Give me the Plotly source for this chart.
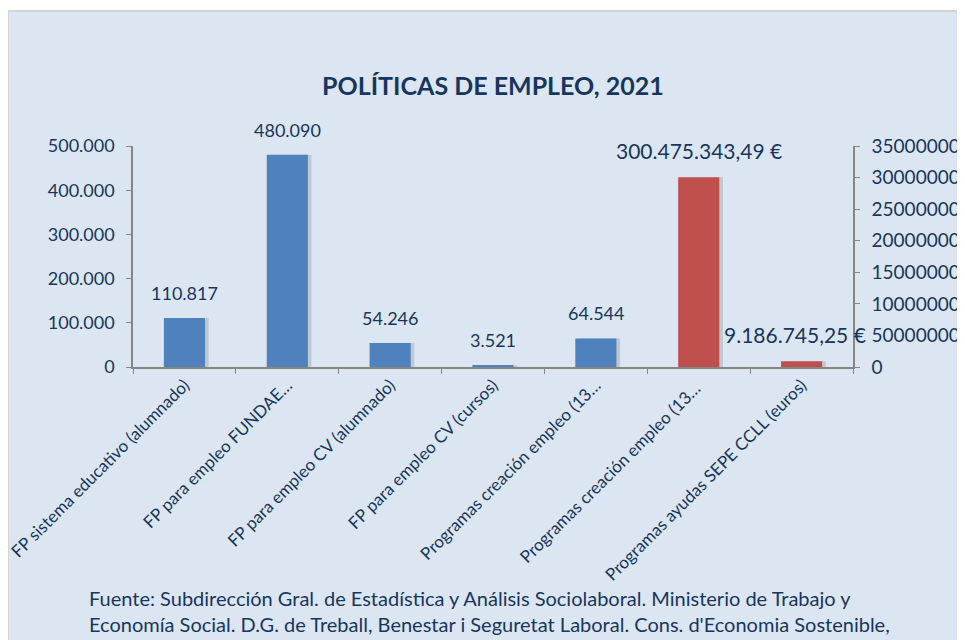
import plotly.graph_objects as go

W, H = 965, 640
# the page sits 8px in from the window corner, so positions read off the
# screenshot are shifted back by that much
OFF = 8

categories = [
    "FP sistema educativo (alumnado)",
    "FP para empleo FUNDAE…",
    "FP para empleo CV (alumnado)",
    "FP para empleo CV (cursos)",
    "Programas creación empleo (13…",
    "Programas creación empleo (13… ",
    "Programas ayudas SEPE CCLL (euros)",
]
people_cats = categories[:5]
people_vals = [110817, 480090, 54246, 3521, 64544]
people_labels = ["110.817", "480.090", "54.246", "3.521", "64.544"]
euro_cats = categories[5:]
euro_vals = [300475343.49, 9186745.25]
euro_labels = ["300.475.343,49 €", "9.186.745,25 €"]

navy = "#17365d"
font = "Lato, 'Open Sans', sans-serif"


def px(x):
    return (x - OFF) / W


def py(y):
    return 1 - (y - OFF) / H


fig = go.Figure()
# soft drop shadows behind the bars
fig.add_trace(go.Bar(x=people_cats, y=people_vals, width=0.4, offset=-0.165,
                     marker=dict(color="rgba(90,90,90,0.22)", line=dict(width=0)),
                     hoverinfo="skip"))
fig.add_trace(go.Bar(x=euro_cats, y=euro_vals, width=0.4, offset=-0.165, yaxis="y2",
                     marker=dict(color="rgba(90,90,90,0.22)", line=dict(width=0)),
                     hoverinfo="skip"))
fig.add_trace(go.Bar(x=people_cats, y=people_vals, width=0.4,
                     marker=dict(color="#4f81bd", line=dict(width=0)),
                     hoverinfo="x+y"))
fig.add_trace(go.Bar(x=euro_cats, y=euro_vals, width=0.4, yaxis="y2",
                     marker=dict(color="#c0504d", line=dict(width=0)),
                     hoverinfo="x+y"))

annotations = []
for c, v, t in zip(people_cats, people_vals, people_labels):
    annotations.append(dict(x=c, y=v, xref="x", yref="y", text=t, showarrow=False,
                            yanchor="bottom", yshift=12,
                            font=dict(size=18, color=navy, family=font)))
for c, v, t, dx in zip(euro_cats, euro_vals, euro_labels, [0, -7]):
    annotations.append(dict(x=c, y=v, xref="x", yref="y2", text=t, showarrow=False,
                            yanchor="bottom", xshift=dx, yshift=12,
                            font=dict(size=21, color=navy, family=font)))

annotations.append(dict(x=px(493), y=py(85), xref="paper", yref="paper",
                        yanchor="middle",
                        text="<b>POLÍTICAS DE EMPLEO, 2021</b>", showarrow=False,
                        font=dict(size=25, color=navy, family=font)))
annotations.append(dict(x=px(87), y=py(611), xref="paper", yref="paper",
                        xanchor="left", yanchor="middle", align="left", showarrow=False,
                        text="Fuente: Subdirección Gral. de Estadística y Análisis Sociolaboral. Ministerio de Trabajo y<br>"
                             "Economía Social. D.G. de Treball, Benestar i Seguretat Laboral. Cons. d'Economia Sostenible,",
                        font=dict(size=20, color=navy, family=font)))

axis_common = dict(showgrid=False, zeroline=False, showline=True, linecolor="#868686",
                   linewidth=1.5, ticks="outside", ticklen=5, tickcolor="#868686",
                   automargin=False,
                   tickfont=dict(size=18, color=navy, family=font))

fig.update_layout(
    width=W, height=H,
    margin=dict(l=0, r=0, t=0, b=0, autoexpand=False),
    paper_bgcolor="white",
    plot_bgcolor="#f2f2f2",
    separators=",.",
    barmode="overlay",
    showlegend=False,
    annotations=annotations,
    shapes=[dict(type="rect", xref="paper", yref="paper", x0=px(8), x1=1.05,
                 y0=-0.05, y1=py(11), fillcolor="#dce6f2",
                 line=dict(color="#d4d4d4", width=2), layer="below")],
    xaxis=dict(axis_common, domain=[px(133), px(853)], type="category",
               categoryorder="array", categoryarray=categories,
               range=[-0.5, len(categories) - 0.5],
               tickson="boundaries", tickangle=-45,
               tickfont=dict(size=17, color=navy, family=font)),
    yaxis=dict(axis_common, domain=[py(367), py(146)], range=[0, 500000],
               dtick=100000, tickformat=",d", ticklabelstandoff=8),
    yaxis2=dict(axis_common, overlaying="y", side="right", range=[0, 350000000],
                dtick=50000000, tickformat="d", ticklabelstandoff=8,
                tickfont=dict(size=19, color=navy, family=font)),
)

fig.write_html("out.html")
